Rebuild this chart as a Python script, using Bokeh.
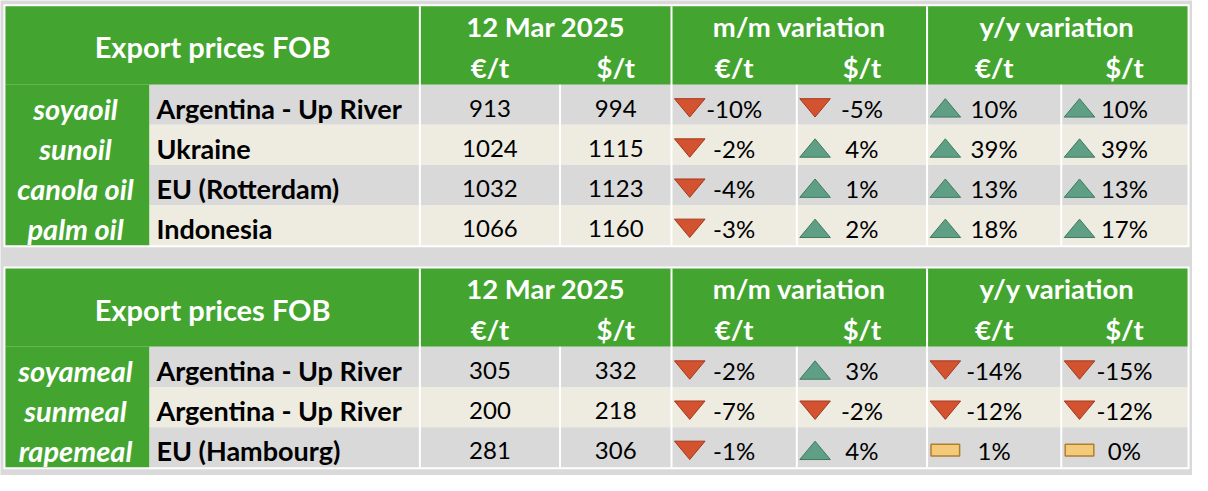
from bokeh.plotting import figure
from bokeh.models import Range1d, ColumnDataSource
from bokeh.embed import file_html
from bokeh.resources import INLINE
from bokeh.core.properties import value

# ---------------- data ----------------
title_text = "Export prices FOB"
date_text = "12 Mar 2025"
mm_text = "m/m variation"
yy_text = "y/y variation"
unit_labels = ["€/t", "$/t"]

oil_products = ["soyaoil", "sunoil", "canola oil", "palm oil"]
oil_origins = ["Argentina - Up River", "Ukraine", "EU (Rotterdam)", "Indonesia"]
oil_eur = [913, 1024, 1032, 1066]
oil_usd = [994, 1115, 1123, 1160]
oil_mm_eur = [-10, -2, -4, -3]
oil_mm_usd = [-5, 4, 1, 2]
oil_yy_eur = [10, 39, 13, 18]
oil_yy_usd = [10, 39, 13, 17]

meal_products = ["soyameal", "sunmeal", "rapemeal"]
meal_origins = ["Argentina - Up River", "Argentina - Up River", "EU (Hambourg)"]
meal_eur = [305, 200, 281]
meal_usd = [332, 218, 306]
meal_mm_eur = [-2, -7, -1]
meal_mm_usd = [3, -2, 4]
meal_yy_eur = [-14, -12, 1]
meal_yy_usd = [-15, -12, 0]
# cells whose icon is "flat" although the rounded value is not 0 (row, column index)
meal_flat_cells = [(2, 2)]

# ---------------- style ----------------
BG = "#d9d9d9"
GREEN = "#43a52f"
ROW_COLORS = ["#d9d9d9", "#eeece1"]
WHITE = "#ffffff"
FONT = value("Lato")
DOWN_FILL, DOWN_LINE = "#d35230", "#a3391c"
UP_FILL, UP_LINE = "#5f9f86", "#3d7a60"
FLAT_FILL, FLAT_LINE = "#f2ca7a", "#b07f2e"

W, H = 1192, 475
REF_W, REF_H = 1208, 491
p = figure(width=W, height=H, x_range=Range1d(0, REF_W), y_range=Range1d(REF_H, 0),
           output_backend="svg", toolbar_location=None, min_border=0,
           x_axis_location=None, y_axis_location=None)
p.grid.visible = False
p.outline_line_color = None
p.background_fill_color = BG
p.border_fill_color = BG

COLS = [5, 151, 425, 567, 680, 807, 939, 1075, 1203]
HEADER_H = 81
ROW_H = 41.5
TXT_SHIFT = 9  # baseline correction for the svg text rendering


def add_text(xs, ys, texts, size, color, style, align):
    src = ColumnDataSource(dict(x=xs, y=[y - TXT_SHIFT for y in ys], t=texts))
    p.text("x", "y", text="t", source=src, text_font=FONT, text_font_size=size,
           text_color=color, text_font_style=style, text_align=align,
           text_baseline="alphabetic")


def draw_table(top, products, origins, eur, usd, mm_e, mm_u, yy_e, yy_u, flat_cells):
    n = len(products)
    hb = top + HEADER_H
    bottom = hb + n * ROW_H
    # frame and header
    p.quad(left=[COLS[0] - 2], right=[COLS[-1] + 2], top=[top - 2], bottom=[bottom + 2],
           fill_color=WHITE, line_color=None)
    p.quad(left=[COLS[0]], right=[COLS[-1]], top=[top], bottom=[hb],
           fill_color=GREEN, line_color=None)
    p.quad(left=[COLS[0]], right=[COLS[1]], top=[hb], bottom=[bottom],
           fill_color=GREEN, line_color=None)
    tops = [hb + i * ROW_H for i in range(n)]
    bots = [t + ROW_H for t in tops]
    p.quad(left=[COLS[1]] * n, right=[COLS[-1]] * n, top=tops, bottom=bots,
           fill_color=[ROW_COLORS[i % 2] for i in range(n)], line_color=None)
    # white separators
    main = [COLS[2], COLS[4], COLS[6]]
    sub = [COLS[3], COLS[5], COLS[7]]
    p.segment(x0=main, x1=main, y0=[top] * 3, y1=[bottom] * 3, line_color=WHITE, line_width=2)
    p.segment(x0=sub, x1=sub, y0=[hb] * 3, y1=[bottom] * 3, line_color=WHITE, line_width=2)

    # header texts
    add_text([(COLS[0] + COLS[2]) / 2], [top + 51], [title_text], "29px", WHITE, "bold", "center")
    add_text([(COLS[2] + COLS[4]) / 2, (COLS[4] + COLS[6]) / 2, (COLS[6] + COLS[8]) / 2],
             [top + 30] * 3, [date_text, mm_text, yy_text], "27.5px", WHITE, "bold", "center")
    ux = [(COLS[k] + COLS[k + 1]) / 2 for k in range(2, 8)]
    add_text(ux, [top + 72] * 6, unit_labels * 3, "27.5px", WHITE, "bold", "center")

    base = [b - 8 for b in bots]
    add_text([(COLS[0] + COLS[1]) / 2 - 2] * n, base, products, "29px", WHITE, "bold italic", "center")
    add_text([COLS[1] + 7] * n, base, origins, "27px", "#000000", "bold", "left")
    add_text([ux[0]] * n, base, [str(v) for v in eur], "24px", "#000000", "normal", "center")
    add_text([ux[1]] * n, base, [str(v) for v in usd], "24px", "#000000", "normal", "center")

    # variation columns
    series = [mm_e, mm_u, yy_e, yy_u]
    down_x, down_y, up_x, up_y = [], [], [], []
    fl, fr, ft, fb = [], [], [], []
    for j, vals in enumerate(series):
        cl, cr = COLS[4 + j], COLS[5 + j]
        cx = (cl + cr) / 2
        add_text([cx] * n, base, [f"{v}%" for v in vals], "24px", "#000000", "normal", "center")
        l, r = cl + 3, cl + 34
        for i, v in enumerate(vals):
            b = bots[i] - 8
            t = b - 19
            if v == 0 or (i, j) in flat_cells:
                c = (tops[i] + bots[i]) / 2 + 3
                fl.append(l + 1); fr.append(r - 1); ft.append(c - 6); fb.append(c + 6)
            elif v < 0:
                down_x.append([l, r, (l + r) / 2]); down_y.append([t, t, b])
            else:
                up_x.append([l, r, (l + r) / 2]); up_y.append([b, b, t])
    if down_x:
        p.patches(down_x, down_y, fill_color=DOWN_FILL, line_color=DOWN_LINE, line_width=1)
    if up_x:
        p.patches(up_x, up_y, fill_color=UP_FILL, line_color=UP_LINE, line_width=1)
    if fl:
        p.quad(left=fl, right=fr, top=ft, bottom=fb, fill_color=FLAT_FILL,
               line_color=FLAT_LINE, line_width=1.5)


draw_table(6, oil_products, oil_origins, oil_eur, oil_usd,
           oil_mm_eur, oil_mm_usd, oil_yy_eur, oil_yy_usd, [])
draw_table(277, meal_products, meal_origins, meal_eur, meal_usd,
           meal_mm_eur, meal_mm_usd, meal_yy_eur, meal_yy_usd, meal_flat_cells)

open("out.html", "w").write(file_html(p, INLINE))
